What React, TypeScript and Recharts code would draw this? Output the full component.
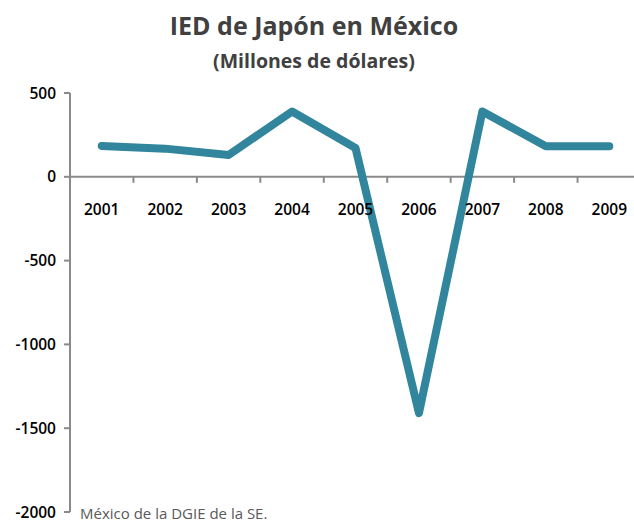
import React from "react";
import { LineChart, Line, XAxis, YAxis, ReferenceLine, ReferenceDot } from "recharts";

const years = [2001, 2002, 2003, 2004, 2005, 2006, 2007, 2008, 2009];
const ied = [184, 168, 130, 390, 172, -1410, 390, 182, 182];
const yTicks = [-2000, -1500, -1000, -500, 0, 500];
const boundaries = [2000.5, 2001.5, 2002.5, 2003.5, 2004.5, 2005.5, 2006.5, 2007.5, 2008.5, 2009.5];
const title = "IED de Japón en México";
const subtitle = "(Millones de dólares)";
const footer = "México de la DGIE de la SE.";

const data = years.map((y, i) => ({ year: y, ied: ied[i] }));

const AXIS = "#8a8a8a";
const LINE = "#31859C";
const FONT = "'Open Sans', sans-serif";

export default function App() {
  return (
    <div style={{ position: "absolute", left: 0, top: 0, width: 634, height: 525, overflow: "hidden", background: "#fff" }}>
      <LineChart width={660} height={525} data={data} margin={{ top: 93, left: 10, right: 19, bottom: 13 }}>
        <XAxis type="number" dataKey="year" domain={[2000.5, 2009.5]} hide />
        <YAxis
          domain={[-2000, 500]}
          ticks={yTicks}
          width={60}
          axisLine={{ stroke: AXIS, strokeWidth: 2 }}
          tickLine={{ stroke: AXIS, strokeWidth: 2 }}
          tickSize={6}
          tickMargin={8}
          tick={{ fill: "#000", fontSize: 15.5, fontFamily: FONT, fontWeight: 600 }}
          interval={0}
        />
        <ReferenceLine y={0} stroke={AXIS} strokeWidth={2} ifOverflow="extendDomain" />
        {boundaries.map((b) => (
          <ReferenceLine
            key={b}
            segment={[{ x: b, y: 0 }, { x: b, y: -36 }]}
            stroke={AXIS}
            strokeWidth={2}
          />
        ))}
        {years.map((y) => (
          <ReferenceDot
            key={y}
            x={y}
            y={0}
            r={0}
            fill="none"
            stroke="none"
            label={{ value: String(y), position: "bottom", offset: 27, fill: "#000", fontSize: 15.5, fontFamily: FONT, fontWeight: 600 }}
          />
        ))}
        <Line
          type="linear"
          dataKey="ied"
          stroke={LINE}
          strokeWidth={8}
          strokeLinecap="round"
          strokeLinejoin="round"
          dot={false}
          activeDot={false}
          isAnimationActive={false}
        />
      </LineChart>
      <svg width={634} height={80} style={{ position: "absolute", left: 0, top: 0 }}>
        <text x={314} y={35} textAnchor="middle" fill="#404040" fontFamily={FONT} fontWeight={700} fontSize={25}>
          {title}
        </text>
        <text x={314} y={68} textAnchor="middle" fill="#404040" fontFamily={FONT} fontWeight={700} fontSize={19.5}>
          {subtitle}
        </text>
      </svg>
      <svg width={634} height={25} style={{ position: "absolute", left: 0, top: 500 }}>
        <text x={80} y={19} fill="#595959" fontFamily={FONT} fontSize={15}>
          {footer}
        </text>
      </svg>
    </div>
  );
}
